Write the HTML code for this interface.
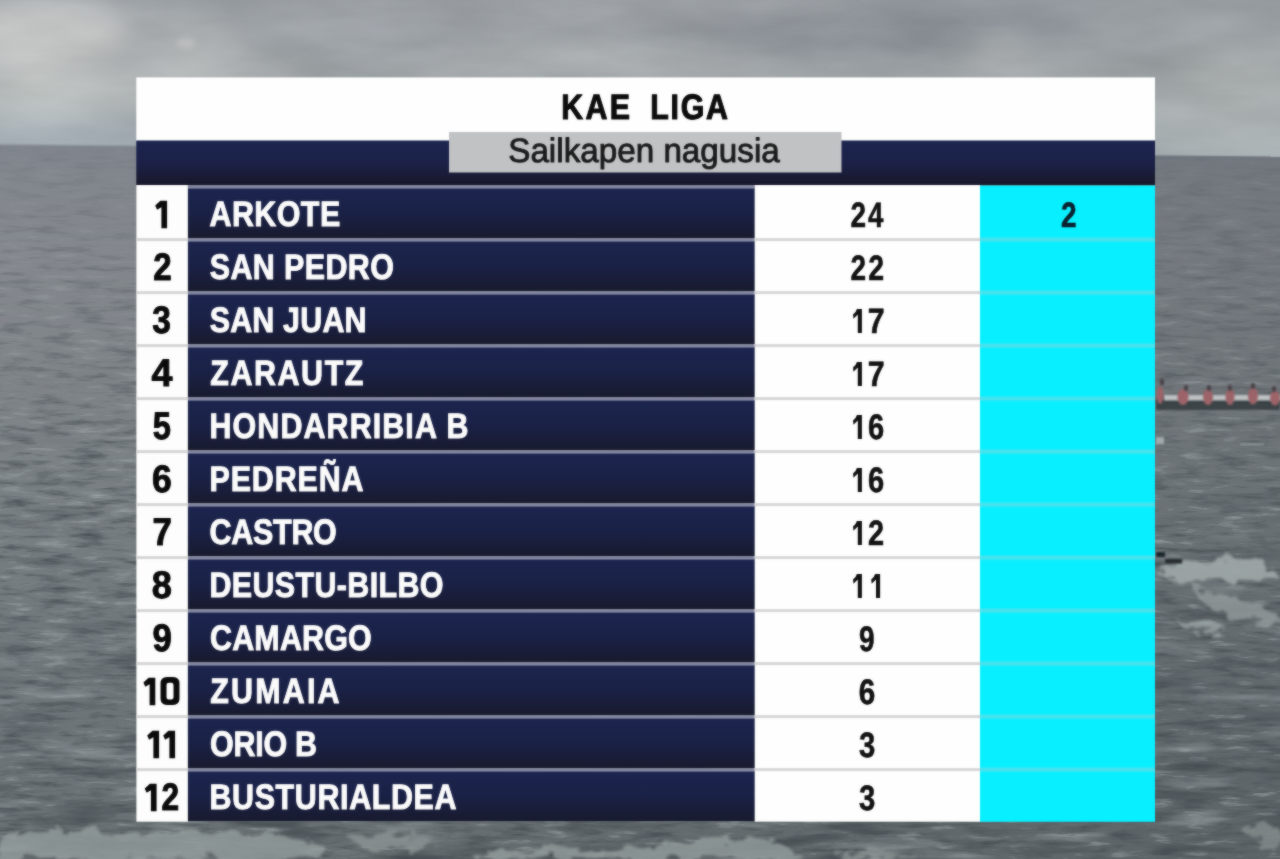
<!DOCTYPE html>
<html><head><meta charset="utf-8"><title>KAE LIGA</title>
<style>
html,body{margin:0;padding:0;background:#6b7276;overflow:hidden}
body{width:1280px;height:859px;position:relative;font-family:"Liberation Sans",sans-serif}
svg{position:absolute;left:0;top:0;display:block}
text{font-family:"Liberation Sans",sans-serif;text-rendering:geometricPrecision}
.nm{font-weight:bold;font-size:35.4px;fill:#fbfbfb;stroke:#fbfbfb;stroke-width:1px;stroke-linejoin:round}
.tt{font-weight:bold;font-size:35.3px;fill:#0b0b0b;stroke:#0b0b0b;stroke-width:1.1px;stroke-linejoin:round}
.rk{font-weight:bold;font-size:38.5px;fill:#0a0a0a;stroke:#0a0a0a;stroke-width:1px;stroke-linejoin:round}
.pt{font-weight:bold;font-size:35.3px;fill:#111;stroke:#111;stroke-width:0.6px;stroke-linejoin:round}
.st{font-size:33.8px;fill:#1a1a1a;stroke:#1a1a1a;stroke-width:0.9px;stroke-linejoin:round}
.soft{filter:url(#soft)}
</style></head><body>
<svg width="1280" height="859" viewBox="0 0 1280 859">
<defs>
<linearGradient id="sky" gradientUnits="userSpaceOnUse" x1="0" y1="0" x2="0" y2="160">
<stop offset="0" stop-color="#9a9fa4"/><stop offset="0.5" stop-color="#a1a6a9"/><stop offset="1" stop-color="#a5aeb2"/>
</linearGradient>
<linearGradient id="sea" gradientUnits="userSpaceOnUse" x1="0" y1="144" x2="0" y2="859">
<stop offset="0" stop-color="#80858e"/><stop offset="0.04" stop-color="#83888e"/><stop offset="0.15" stop-color="#85898f"/><stop offset="0.43" stop-color="#7c8286"/><stop offset="0.78" stop-color="#6e767a"/><stop offset="1" stop-color="#697174"/>
</linearGradient>
<linearGradient id="navy" x1="0" y1="0" x2="0" y2="1">
<stop offset="0" stop-color="#1c254f"/><stop offset="0.5" stop-color="#1a2146"/><stop offset="0.85" stop-color="#191c35"/><stop offset="1" stop-color="#181a2d"/>
</linearGradient>
<linearGradient id="band" x1="0" y1="0" x2="0" y2="1">
<stop offset="0" stop-color="#1c2550"/><stop offset="0.55" stop-color="#1b2045"/><stop offset="0.9" stop-color="#19192f"/><stop offset="1" stop-color="#17172a"/>
</linearGradient>
<filter id="soft" x="-2%" y="-2%" width="104%" height="104%" color-interpolation-filters="sRGB"><feGaussianBlur stdDeviation="1" result="b"/><feComposite in="SourceGraphic" in2="b" operator="arithmetic" k1="0" k2="0.5" k3="0.5" k4="0"/></filter>
<filter id="cb" x="-10%" y="-50%" width="120%" height="200%" color-interpolation-filters="sRGB"><feGaussianBlur stdDeviation="14"/></filter>
<filter id="cb2" x="-50%" y="-50%" width="200%" height="200%" color-interpolation-filters="sRGB"><feGaussianBlur stdDeviation="3"/></filter>
<filter id="skytex" x="0" y="0" width="100%" height="100%" color-interpolation-filters="sRGB"><feTurbulence type="fractalNoise" baseFrequency="0.006 0.02" numOctaves="4" seed="7"/><feColorMatrix type="matrix" values="1 0 0 0 0  1 0 0 0 0  1 0 0 0 0  0 0 0 0 1" result="n"/><feComposite in="SourceGraphic" in2="n" operator="arithmetic" k1="0" k2="1" k3="0.14" k4="-0.07"/></filter>
<filter id="fb" x="-5%" y="-5%" width="110%" height="110%" color-interpolation-filters="sRGB"><feTurbulence type="fractalNoise" baseFrequency="0.05 0.09" numOctaves="3" seed="5" result="t"/><feDisplacementMap in="SourceGraphic" in2="t" scale="22" xChannelSelector="R" yChannelSelector="G"/><feGaussianBlur stdDeviation="1.6"/></filter>
<filter id="bb" x="-20%" y="-20%" width="140%" height="140%" color-interpolation-filters="sRGB"><feGaussianBlur stdDeviation="1"/></filter>
<filter id="nd1" x="0" y="0" width="100%" height="100%" color-interpolation-filters="sRGB"><feTurbulence type="fractalNoise" baseFrequency="0.028 0.15" numOctaves="4" seed="3"/><feColorMatrix type="matrix" values="0 0 0 0 0.27  0 0 0 0 0.30  0 0 0 0 0.32  -1.9 0 0 0 0.94"/></filter>
<filter id="nl1" x="0" y="0" width="100%" height="100%" color-interpolation-filters="sRGB"><feTurbulence type="fractalNoise" baseFrequency="0.028 0.15" numOctaves="4" seed="3"/><feColorMatrix type="matrix" values="0 0 0 0 0.68  0 0 0 0 0.71  0 0 0 0 0.72  1.8 0 0 0 -1.10"/></filter>
<filter id="nd2" x="0" y="0" width="100%" height="100%" color-interpolation-filters="sRGB"><feTurbulence type="fractalNoise" baseFrequency="0.008 0.055" numOctaves="3" seed="11"/><feColorMatrix type="matrix" values="0 0 0 0 0.25  0 0 0 0 0.28  0 0 0 0 0.30  -2.6 0 0 0 1.2"/></filter>
<filter id="nl2" x="0" y="0" width="100%" height="100%" color-interpolation-filters="sRGB"><feTurbulence type="fractalNoise" baseFrequency="0.008 0.055" numOctaves="3" seed="11"/><feColorMatrix type="matrix" values="0 0 0 0 0.66  0 0 0 0 0.70  0 0 0 0 0.71  2.2 0 0 0 -1.32"/></filter>
<linearGradient id="mg1" gradientUnits="userSpaceOnUse" x1="0" y1="145" x2="0" y2="859"><stop offset="0" stop-color="#262626"/><stop offset="0.5" stop-color="#fff"/></linearGradient>
<linearGradient id="mg2" gradientUnits="userSpaceOnUse" x1="0" y1="145" x2="0" y2="859"><stop offset="0.3" stop-color="#000"/><stop offset="1" stop-color="#fff"/></linearGradient>
<mask id="m1" maskUnits="userSpaceOnUse" x="0" y="140" width="1280" height="719"><rect x="0" y="140" width="1280" height="719" fill="url(#mg1)"/></mask>
<mask id="m2" maskUnits="userSpaceOnUse" x="0" y="140" width="1280" height="719"><rect x="0" y="140" width="1280" height="719" fill="url(#mg2)"/></mask>
<filter id="bb2" x="-30%" y="-30%" width="160%" height="160%" color-interpolation-filters="sRGB"><feGaussianBlur stdDeviation="1.3"/></filter>
<filter id="hb" x="-2%" y="-2%" width="104%" height="104%" color-interpolation-filters="sRGB"><feGaussianBlur stdDeviation="0.9"/></filter>
<clipPath id="seaclip"><polygon points="0,146 1280,158 1280,859 0,859"/></clipPath>
<linearGradient id="seah" gradientUnits="userSpaceOnUse" x1="0" y1="0" x2="1280" y2="0"><stop offset="0" stop-color="#20282c" stop-opacity="0"/><stop offset="1" stop-color="#20282c" stop-opacity="0.17"/></linearGradient>
</defs>
<!-- background -->
<g id="bg">
<g filter="url(#skytex)">
<rect x="0" y="0" width="1280" height="165" fill="url(#sky)"/>
<g filter="url(#cb)">
<ellipse cx="40" cy="36" rx="95" ry="34" fill="#c4c6c5"/>
<ellipse cx="30" cy="95" rx="120" ry="24" fill="#b6bbba"/>
<ellipse cx="150" cy="90" rx="80" ry="22" fill="#b0b4b4"/>
<ellipse cx="175" cy="42" rx="60" ry="16" fill="#b0b3b4"/>
<ellipse cx="215" cy="64" rx="90" ry="12" fill="#acb0b1" transform="rotate(10 215 64)"/>
<ellipse cx="360" cy="34" rx="110" ry="14" fill="#9a9fa4"/>
<ellipse cx="640" cy="10" rx="440" ry="12" fill="#989ca1"/>
<ellipse cx="540" cy="58" rx="110" ry="12" fill="#a5a9ac"/>
<ellipse cx="690" cy="66" rx="70" ry="12" fill="#a8acae"/>
<ellipse cx="840" cy="38" rx="150" ry="22" fill="#8f949a"/>
<ellipse cx="1010" cy="22" rx="190" ry="20" fill="#8e949a"/>
<ellipse cx="1190" cy="26" rx="110" ry="22" fill="#93999c"/>
<ellipse cx="1000" cy="56" rx="34" ry="20" fill="#a6aaac"/>
<ellipse cx="1235" cy="72" rx="60" ry="12" fill="#a9adab"/>
<ellipse cx="1230" cy="110" rx="90" ry="34" fill="#a5abab"/>
<ellipse cx="60" cy="134" rx="120" ry="10" fill="#a1adb5"/>
</g>
<ellipse cx="186" cy="43" rx="10" ry="5" fill="#c4c6c5" filter="url(#cb2)" opacity="0.8"/>
</g>
<polygon points="-20,144.3 1300,156.7 1300,880 -20,880" fill="url(#sea)" filter="url(#hb)"/>
<polygon points="0,144.5 1280,156.5 1280,859 0,859" fill="url(#seah)"/>
<g clip-path="url(#seaclip)">
<rect x="0" y="140" width="1280" height="719" filter="url(#nd1)" mask="url(#m1)"/>
<rect x="0" y="140" width="1280" height="719" filter="url(#nl1)" mask="url(#m1)"/>
<rect x="0" y="140" width="1280" height="719" filter="url(#nd2)" mask="url(#m2)"/>
<rect x="0" y="140" width="1280" height="719" filter="url(#nl2)" mask="url(#m2)"/>
</g>
<g id="foam" filter="url(#fb)" clip-path="url(#seaclip)">
<path d="M0,838 C40,826 90,830 130,836 C180,826 230,832 300,838 C330,846 320,859 320,859 L0,859 Z" fill="#949d9c" opacity="0.8"/>
<path d="M345,840 C370,830 420,832 440,842 C430,852 360,852 345,840 Z" fill="#8d9695" opacity="0.75"/>
<path d="M470,859 C500,846 560,848 640,850 C680,838 740,834 790,846 C800,855 800,859 800,859 Z" fill="#949d9c" opacity="0.8"/>
<path d="M830,859 C850,850 900,849 925,859 Z" fill="#8e9796" opacity="0.75"/>
<path d="M1243,826 C1255,820 1275,824 1280,832 L1280,846 C1265,848 1250,842 1243,826 Z" fill="#8a9392" opacity="0.7"/>
<path d="M1160,568 C1185,557 1230,556 1262,562 C1275,566 1280,572 1280,578 C1255,586 1225,576 1200,582 C1185,586 1166,580 1160,568 Z" fill="#a0a8a9" opacity="0.9"/>
<path d="M1195,586 C1215,592 1240,602 1262,606 C1275,610 1280,616 1280,622 C1260,626 1235,618 1215,610 C1200,602 1192,594 1195,586 Z" fill="#929b9c" opacity="0.8"/>
<path d="M1178,622 C1195,617 1215,622 1224,631 C1205,636 1186,632 1178,622 Z" fill="#98a1a2" opacity="0.85"/>
</g>
<g id="boat" clip-path="url(#seaclip)">
<rect x="1156" y="399" width="124" height="11" rx="2" fill="#3d4448" filter="url(#bb)"/>
<rect x="1164" y="395" width="116" height="5.5" fill="#c6c9ca" filter="url(#bb)" opacity="0.9"/>
<g filter="url(#bb2)" fill="#9c6368">
<ellipse cx="1160" cy="395" rx="3.5" ry="9"/><ellipse cx="1183" cy="397" rx="5.5" ry="8"/><ellipse cx="1208" cy="397" rx="5" ry="8"/><ellipse cx="1230" cy="397" rx="4.5" ry="8"/><ellipse cx="1253" cy="396" rx="5" ry="8.5"/><ellipse cx="1275" cy="398" rx="5" ry="7.5"/>
</g>
<g filter="url(#bb)" fill="#4a4348">
<ellipse cx="1162" cy="382" rx="2.2" ry="3.5"/><ellipse cx="1186" cy="388" rx="2.2" ry="3"/><ellipse cx="1209" cy="388" rx="2.2" ry="3"/><ellipse cx="1230" cy="388" rx="2.2" ry="3"/><ellipse cx="1253" cy="386" rx="2.2" ry="3"/><ellipse cx="1274" cy="389" rx="2.2" ry="3"/>
</g>
<rect x="1156" y="552" width="9" height="5" fill="#1a262c" filter="url(#bb)"/><rect x="1165" y="559" width="17" height="4.5" fill="#262c30" filter="url(#bb)"/>
<rect x="1156" y="437" width="8" height="7" fill="#b0b8ba" filter="url(#bb)" opacity="0.8"/>
<rect x="1240" y="443" width="24" height="2.5" fill="#949c9f" filter="url(#bb)" opacity="0.7"/>
</g>
</g>
<!-- panel -->
<g class="soft">
<rect x="136.3" y="77.4" width="1018.7" height="64" fill="#fefefe"/>
<rect x="136.3" y="140.5" width="1018.7" height="44.5" fill="url(#band)"/>
<rect x="449" y="132" width="392.5" height="40.5" fill="#c1c2c4"/>
<rect x="136.4" y="185" width="51.4" height="636.7" fill="#fdfdfd"/>
<rect x="754.5" y="185" width="225.5" height="636.7" fill="#fefefe"/>
<rect x="980" y="185.5" width="175" height="636.3" fill="#08efff"/>

<rect x="188" y="188.0" width="566.5" height="50" fill="url(#navy)"/>
<rect x="188" y="241.0" width="566.5" height="50" fill="url(#navy)"/>
<rect x="188" y="294.0" width="566.5" height="50" fill="url(#navy)"/>
<rect x="188" y="347.0" width="566.5" height="50" fill="url(#navy)"/>
<rect x="188" y="400.0" width="566.5" height="50" fill="url(#navy)"/>
<rect x="188" y="453.0" width="566.5" height="50" fill="url(#navy)"/>
<rect x="188" y="506.0" width="566.5" height="50" fill="url(#navy)"/>
<rect x="188" y="559.0" width="566.5" height="50" fill="url(#navy)"/>
<rect x="188" y="612.0" width="566.5" height="50" fill="url(#navy)"/>
<rect x="188" y="665.0" width="566.5" height="50" fill="url(#navy)"/>
<rect x="188" y="718.0" width="566.5" height="50" fill="url(#navy)"/>
<rect x="188" y="771.0" width="566.5" height="50" fill="url(#navy)"/>
<rect x="188" y="185.2" width="566.5" height="3.4" fill="#8387a0"/>
<rect x="188" y="238.2" width="566.5" height="3.4" fill="#8387a0"/>
<rect x="136.4" y="238.1" width="51.4" height="3" fill="#d5d5d5"/>
<rect x="754.5" y="238.1" width="225.5" height="3" fill="#d6d6d8"/>
<rect x="980" y="236.9" width="175" height="5.4" fill="#25ebf7"/><rect x="980" y="238.1" width="175" height="3.1" fill="#47e2ec"/>
<rect x="188" y="291.2" width="566.5" height="3.4" fill="#8387a0"/>
<rect x="136.4" y="291.1" width="51.4" height="3" fill="#d5d5d5"/>
<rect x="754.5" y="291.1" width="225.5" height="3" fill="#d6d6d8"/>
<rect x="980" y="289.9" width="175" height="5.4" fill="#25ebf7"/><rect x="980" y="291.1" width="175" height="3.1" fill="#47e2ec"/>
<rect x="188" y="344.2" width="566.5" height="3.4" fill="#8387a0"/>
<rect x="136.4" y="344.1" width="51.4" height="3" fill="#d5d5d5"/>
<rect x="754.5" y="344.1" width="225.5" height="3" fill="#d6d6d8"/>
<rect x="980" y="342.9" width="175" height="5.4" fill="#25ebf7"/><rect x="980" y="344.1" width="175" height="3.1" fill="#47e2ec"/>
<rect x="188" y="397.2" width="566.5" height="3.4" fill="#8387a0"/>
<rect x="136.4" y="397.1" width="51.4" height="3" fill="#d5d5d5"/>
<rect x="754.5" y="397.1" width="225.5" height="3" fill="#d6d6d8"/>
<rect x="980" y="395.9" width="175" height="5.4" fill="#25ebf7"/><rect x="980" y="397.1" width="175" height="3.1" fill="#47e2ec"/>
<rect x="188" y="450.2" width="566.5" height="3.4" fill="#8387a0"/>
<rect x="136.4" y="450.1" width="51.4" height="3" fill="#d5d5d5"/>
<rect x="754.5" y="450.1" width="225.5" height="3" fill="#d6d6d8"/>
<rect x="980" y="448.9" width="175" height="5.4" fill="#25ebf7"/><rect x="980" y="450.1" width="175" height="3.1" fill="#47e2ec"/>
<rect x="188" y="503.2" width="566.5" height="3.4" fill="#8387a0"/>
<rect x="136.4" y="503.1" width="51.4" height="3" fill="#d5d5d5"/>
<rect x="754.5" y="503.1" width="225.5" height="3" fill="#d6d6d8"/>
<rect x="980" y="501.9" width="175" height="5.4" fill="#25ebf7"/><rect x="980" y="503.1" width="175" height="3.1" fill="#47e2ec"/>
<rect x="188" y="556.2" width="566.5" height="3.4" fill="#8387a0"/>
<rect x="136.4" y="556.1" width="51.4" height="3" fill="#d5d5d5"/>
<rect x="754.5" y="556.1" width="225.5" height="3" fill="#d6d6d8"/>
<rect x="980" y="554.9" width="175" height="5.4" fill="#25ebf7"/><rect x="980" y="556.1" width="175" height="3.1" fill="#47e2ec"/>
<rect x="188" y="609.2" width="566.5" height="3.4" fill="#8387a0"/>
<rect x="136.4" y="609.1" width="51.4" height="3" fill="#d5d5d5"/>
<rect x="754.5" y="609.1" width="225.5" height="3" fill="#d6d6d8"/>
<rect x="980" y="607.9" width="175" height="5.4" fill="#25ebf7"/><rect x="980" y="609.1" width="175" height="3.1" fill="#47e2ec"/>
<rect x="188" y="662.2" width="566.5" height="3.4" fill="#8387a0"/>
<rect x="136.4" y="662.1" width="51.4" height="3" fill="#d5d5d5"/>
<rect x="754.5" y="662.1" width="225.5" height="3" fill="#d6d6d8"/>
<rect x="980" y="660.9" width="175" height="5.4" fill="#25ebf7"/><rect x="980" y="662.1" width="175" height="3.1" fill="#47e2ec"/>
<rect x="188" y="715.2" width="566.5" height="3.4" fill="#8387a0"/>
<rect x="136.4" y="715.1" width="51.4" height="3" fill="#d5d5d5"/>
<rect x="754.5" y="715.1" width="225.5" height="3" fill="#d6d6d8"/>
<rect x="980" y="713.9" width="175" height="5.4" fill="#25ebf7"/><rect x="980" y="715.1" width="175" height="3.1" fill="#47e2ec"/>
<rect x="188" y="768.2" width="566.5" height="3.4" fill="#8387a0"/>
<rect x="136.4" y="768.1" width="51.4" height="3" fill="#d5d5d5"/>
<rect x="754.5" y="768.1" width="225.5" height="3" fill="#d6d6d8"/>
<rect x="980" y="766.9" width="175" height="5.4" fill="#25ebf7"/><rect x="980" y="768.1" width="175" height="3.1" fill="#47e2ec"/>
<text class="tt" style="letter-spacing:2.750px;" transform="translate(561.17,119.00) scale(0.86,1)">KAE</text>
<text class="tt" style="letter-spacing:2.009px;" transform="translate(650.24,119.00) scale(0.86,1)">LIGA</text>
<text class="st" x="508.24" y="162.00" textLength="271.52" lengthAdjust="spacingAndGlyphs">Sailkapen nagusia</text>
<text class="nm" style="letter-spacing:0.509px;" transform="translate(209.49,226.00) scale(0.86,1)">ARKOTE</text>
<path fill="#0a0a0a" d="M161.40,200.70 L167.10,200.70 L167.10,228.30 L161.40,228.30 L161.40,207.20 L157.10,209.80 L155.20,205.50 L160.40,200.70 Z"/>
<text class="pt" x="850.60" y="227.00" textLength="15.60" lengthAdjust="spacingAndGlyphs">2</text>
<text class="pt" x="867.96" y="227.00" textLength="15.36" lengthAdjust="spacingAndGlyphs">4</text>
<text class="pt" style="fill:#0a2030" x="1060.89" y="227.00" textLength="15.54" lengthAdjust="spacingAndGlyphs">2</text>
<text class="nm" style="letter-spacing:0.439px;" transform="translate(209.83,279.00) scale(0.86,1)">SAN PEDRO</text>
<text class="rk" x="153.18" y="280.00" textLength="18.43" lengthAdjust="spacingAndGlyphs">2</text>
<text class="pt" x="850.60" y="280.00" textLength="15.60" lengthAdjust="spacingAndGlyphs">2</text>
<text class="pt" x="868.37" y="280.00" textLength="15.87" lengthAdjust="spacingAndGlyphs">2</text>
<text class="nm" style="letter-spacing:0.216px;" transform="translate(209.66,332.00) scale(0.86,1)">SAN JUAN</text>
<text class="rk" x="152.32" y="333.00" textLength="18.63" lengthAdjust="spacingAndGlyphs">3</text>
<path fill="#111" d="M857.80,308.90 L861.90,308.90 L861.90,333.10 L857.80,333.10 L857.80,314.40 L853.50,318.70 L853.00,314.40 Q856.20,312.00 856.90,308.90 Z"/>
<text class="pt" x="867.67" y="333.00" textLength="16.85" lengthAdjust="spacingAndGlyphs">7</text>
<text class="nm" style="letter-spacing:1.818px;" transform="translate(210.31,385.00) scale(0.86,1)">ZARAUTZ</text>
<text class="rk" x="151.50" y="386.00" textLength="20.95" lengthAdjust="spacingAndGlyphs">4</text>
<path fill="#111" d="M857.80,361.90 L861.90,361.90 L861.90,386.10 L857.80,386.10 L857.80,367.40 L853.50,371.70 L853.00,367.40 Q856.20,365.00 856.90,361.90 Z"/>
<text class="pt" x="867.67" y="386.00" textLength="16.85" lengthAdjust="spacingAndGlyphs">7</text>
<text class="nm" style="letter-spacing:1.274px;" transform="translate(209.49,438.00) scale(0.86,1)">HONDARRIBIA B</text>
<text class="rk" x="152.76" y="439.00" textLength="18.21" lengthAdjust="spacingAndGlyphs">5</text>
<path fill="#111" d="M857.80,414.90 L861.90,414.90 L861.90,439.10 L857.80,439.10 L857.80,420.40 L853.50,424.70 L853.00,420.40 Q856.20,418.00 856.90,414.90 Z"/>
<text class="pt" x="867.94" y="439.00" textLength="16.16" lengthAdjust="spacingAndGlyphs">6</text>
<text class="nm" style="letter-spacing:1.020px;" transform="translate(209.48,491.00) scale(0.86,1)">PEDREÑA</text>
<text class="rk" x="152.12" y="492.00" textLength="19.80" lengthAdjust="spacingAndGlyphs">6</text>
<path fill="#111" d="M857.80,467.90 L861.90,467.90 L861.90,492.10 L857.80,492.10 L857.80,473.40 L853.50,477.70 L853.00,473.40 Q856.20,471.00 856.90,467.90 Z"/>
<text class="pt" x="867.94" y="492.00" textLength="16.16" lengthAdjust="spacingAndGlyphs">6</text>
<text class="nm" style="letter-spacing:-0.309px;" transform="translate(209.61,544.00) scale(0.86,1)">CASTRO</text>
<text class="rk" x="152.49" y="545.00" textLength="19.31" lengthAdjust="spacingAndGlyphs">7</text>
<path fill="#111" d="M857.80,520.90 L861.90,520.90 L861.90,545.10 L857.80,545.10 L857.80,526.40 L853.50,530.70 L853.00,526.40 Q856.20,524.00 856.90,520.90 Z"/>
<text class="pt" x="868.09" y="545.00" textLength="16.11" lengthAdjust="spacingAndGlyphs">2</text>
<text class="nm" style="letter-spacing:0.427px;" transform="translate(209.46,597.00) scale(0.86,1)">DEUSTU-BILBO</text>
<text class="rk" x="151.75" y="598.00" textLength="20.14" lengthAdjust="spacingAndGlyphs">8</text>
<path fill="#111" d="M857.80,573.90 L861.90,573.90 L861.90,598.10 L857.80,598.10 L857.80,579.40 L853.50,583.70 L853.00,579.40 Q856.20,577.00 856.90,573.90 Z"/>
<path fill="#111" d="M876.00,573.90 L880.10,573.90 L880.10,598.10 L876.00,598.10 L876.00,579.40 L871.70,583.70 L871.20,579.40 Q874.40,577.00 875.10,573.90 Z"/>
<text class="nm" style="letter-spacing:0.232px;" transform="translate(209.97,650.00) scale(0.86,1)">CAMARGO</text>
<text class="rk" x="152.60" y="651.00" textLength="19.30" lengthAdjust="spacingAndGlyphs">9</text>
<text class="pt" x="859.11" y="651.00" textLength="15.57" lengthAdjust="spacingAndGlyphs">9</text>
<text class="nm" style="letter-spacing:2.528px;" transform="translate(210.31,703.00) scale(0.86,1)">ZUMAIA</text>
<path fill="#0a0a0a" d="M149.60,677.70 L155.30,677.70 L155.30,705.30 L149.60,705.30 L149.60,684.20 L145.30,686.80 L143.40,682.50 L148.60,677.70 Z"/>
<path fill="#0a0a0a" fill-rule="evenodd" d="M167.00,677.10 H173.00 Q179.50,677.10 179.50,683.60 V698.60 Q179.50,705.10 173.00,705.10 H167.00 Q160.50,705.10 160.50,698.60 V683.60 Q160.50,677.10 167.00,677.10 Z M168.70,682.70 H171.30 Q173.50,682.70 173.50,684.90 V697.30 Q173.50,699.50 171.30,699.50 H168.70 Q166.50,699.50 166.50,697.30 V684.90 Q166.50,682.70 168.70,682.70 Z"/>
<text class="pt" x="858.87" y="704.00" textLength="16.49" lengthAdjust="spacingAndGlyphs">6</text>
<text class="nm" style="letter-spacing:-0.268px;" transform="translate(209.97,756.00) scale(0.86,1)">ORIO B</text>
<path fill="#0a0a0a" d="M153.40,730.70 L159.10,730.70 L159.10,758.30 L153.40,758.30 L153.40,737.20 L149.10,739.80 L147.20,735.50 L152.40,730.70 Z"/>
<path fill="#0a0a0a" d="M169.40,730.70 L175.10,730.70 L175.10,758.30 L169.40,758.30 L169.40,737.20 L165.10,739.80 L163.20,735.50 L168.40,730.70 Z"/>
<text class="pt" x="859.03" y="757.00" textLength="16.31" lengthAdjust="spacingAndGlyphs">3</text>
<text class="nm" style="letter-spacing:0.734px;" transform="translate(209.46,809.00) scale(0.86,1)">BUSTURIALDEA</text>
<path fill="#0a0a0a" d="M150.90,783.70 L156.60,783.70 L156.60,811.30 L150.90,811.30 L150.90,790.20 L146.60,792.80 L144.70,788.50 L149.90,783.70 Z"/>
<text class="rk" x="161.46" y="810.00" textLength="17.64" lengthAdjust="spacingAndGlyphs">2</text>
<text class="pt" x="859.03" y="810.00" textLength="16.31" lengthAdjust="spacingAndGlyphs">3</text>
</g>
</svg></body></html>
